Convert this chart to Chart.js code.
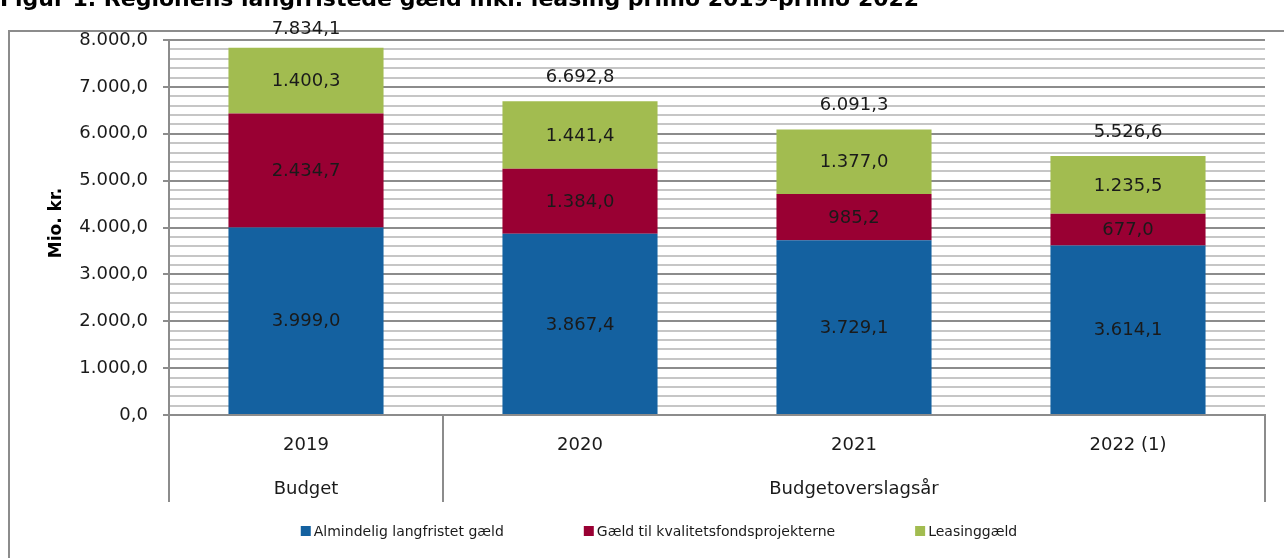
<!DOCTYPE html>
<html lang="da">
<head>
<meta charset="UTF-8"/>
<title>Figur 1</title>
<script src="https://cdn.jsdelivr.net/npm/chart.js@4.4.1/dist/chart.umd.min.js"></script>
<style>
  body{margin:0;background:#fff}
  #wrap{width:1284px;height:558px;position:relative}
</style>
</head>
<body>
<div id="wrap"><canvas id="chart" width="1284" height="558"></canvas></div>
<script>
// data
const categories = ['2019', '2020', '2021', '2022 (1)'];
const groupLabels = ['Budget', 'Budgetoverslagsår'];
const groupSpans = [1, 3];
const seriesNames = ['Almindelig langfristet gæld', 'Gæld til kvalitetsfondsprojekterne', 'Leasinggæld'];
const almindelig = [3999.0, 3867.4, 3729.1, 3614.1];
const kvalitet = [2434.7, 1384.0, 985.2, 677.0];
const leasing = [1400.3, 1441.4, 1377.0, 1235.5];
const totals = [7834.1, 6692.8, 6091.3, 5526.6];
const yMin = 0, yMax = 8000, yStep = 200, yMajor = 1000;

const colors = ['#1461a0', '#990033', '#a2bc50'];
const FONT = '"DejaVu Sans", sans-serif';
const axisGray = '#8c8c8c';

// 1234.5 -> "1.234,5"
function fmt(v) {
  const s = v.toFixed(1).split('.');
  return s[0].replace(/\B(?=(\d{3})+(?!\d))/g, '.') + ',' + s[1];
}

const extras = {
  id: 'extras',
  afterDraw(chart) {
    const c = chart.ctx, x = chart.scales.x, a = chart.chartArea;
    c.save();
    // outer frame (cut by the screenshot)
    c.strokeStyle = axisGray; c.lineWidth = 2;
    c.beginPath(); c.moveTo(9, 600); c.lineTo(9, 31); c.lineTo(1300, 31); c.stroke();

    // title, only its lower half is in the picture
    c.fillStyle = '#000'; c.font = 'bold 22px ' + FONT;
    c.textAlign = 'left'; c.textBaseline = 'alphabetic';
    c.fillText('Figur 1. Regionens langfristede gæld inkl. leasing primo 2019-primo 2022', 0, 6);

    // y axis title
    c.save();
    c.translate(57, 223); c.rotate(-Math.PI / 2);
    c.font = 'bold 17px ' + FONT; c.textAlign = 'center'; c.textBaseline = 'middle';
    c.fillText('Mio. kr.', 0, 0);
    c.restore();

    // segment labels
    c.font = '18px ' + FONT; c.fillStyle = '#1a1a1a';
    c.textAlign = 'center'; c.textBaseline = 'middle';
    chart.data.datasets.forEach((ds, i) => {
      chart.getDatasetMeta(i).data.forEach((bar, j) => {
        c.fillText(fmt(ds.data[j]), bar.x, (bar.y + bar.base) / 2 + 1);
      });
    });
    // totals above the stacks
    const top = chart.getDatasetMeta(chart.data.datasets.length - 1).data;
    top.forEach((bar, j) => {
      c.fillText(fmt(totals[j]), bar.x, Math.max(bar.y - 24, 29));
    });

    // two level category axis
    const half = (x.getPixelForValue(1) - x.getPixelForValue(0)) / 2;
    const lowY = 502;
    c.strokeStyle = axisGray; c.lineWidth = 2;
    c.beginPath();
    c.moveTo(a.left, a.bottom); c.lineTo(a.left, lowY);
    c.moveTo(a.right, a.bottom); c.lineTo(a.right, lowY);
    let start = 0;
    groupSpans.forEach((n, g) => {
      const l = x.getPixelForValue(start) - half;
      const r = x.getPixelForValue(start + n - 1) + half;
      if (start > 0) { c.moveTo(l, a.bottom); c.lineTo(l, lowY); }
      c.fillText(groupLabels[g], (l + r) / 2, 489);
      start += n;
    });
    c.stroke();

    // legend
    c.font = '14px ' + FONT; c.textAlign = 'left';
    const box = 10, gapIn = 3, gapOut = 80;
    const widths = seriesNames.map(t => c.measureText(t).width);
    const total = widths.reduce((s, w) => s + box + gapIn + w, 0) + gapOut * (seriesNames.length - 1);
    let lx = 659 - total / 2;
    const ly = 531;
    seriesNames.forEach((t, i) => {
      c.fillStyle = colors[i];
      c.fillRect(lx, ly - box / 2, box, box);
      c.fillStyle = '#1a1a1a';
      c.fillText(t, lx + box + gapIn, ly + 1);
      lx += box + gapIn + widths[i] + gapOut;
    });
    c.restore();
  }
};

new Chart(document.getElementById('chart'), {
  type: 'bar',
  data: {
    labels: categories,
    datasets: [
      { label: seriesNames[0], data: almindelig, backgroundColor: colors[0] },
      { label: seriesNames[1], data: kvalitet, backgroundColor: colors[1] },
      { label: seriesNames[2], data: leasing, backgroundColor: colors[2] }
    ]
  },
  options: {
    responsive: false,
    animation: false,
    layout: { padding: { top: 40, right: 19, left: 0, bottom: 0 } },
    datasets: { bar: { barPercentage: 0.566, categoryPercentage: 1 } },
    plugins: { legend: { display: false }, tooltip: { enabled: false } },
    scales: {
      x: {
        stacked: true,
        afterFit(s) { s.height = 143; },
        grid: { display: false, drawTicks: false },
        border: { display: true, color: axisGray, width: 2 },
        ticks: { color: '#1a1a1a', font: { family: FONT, size: 18 }, padding: 20, maxRotation: 0 }
      },
      y: {
        stacked: true,
        min: yMin, max: yMax,
        afterFit(s) { s.width = 169; },
        grid: {
          lineWidth: 2,
          tickLength: 6,
          color: ctx => ctx.tick && ctx.tick.value % yMajor === 0 ? '#8c8c8c' : '#c6c6c6',
          tickColor: ctx => ctx.tick && ctx.tick.value % yMajor === 0 ? axisGray : 'rgba(0,0,0,0)'
        },
        border: { display: true, color: axisGray, width: 2 },
        ticks: {
          stepSize: yStep, autoSkip: false, padding: 15,
          color: '#1a1a1a', font: { family: FONT, size: 18 },
          callback: v => v % yMajor === 0 ? fmt(v) : ''
        }
      }
    }
  },
  plugins: [extras]
});
</script>
</body>
</html>
